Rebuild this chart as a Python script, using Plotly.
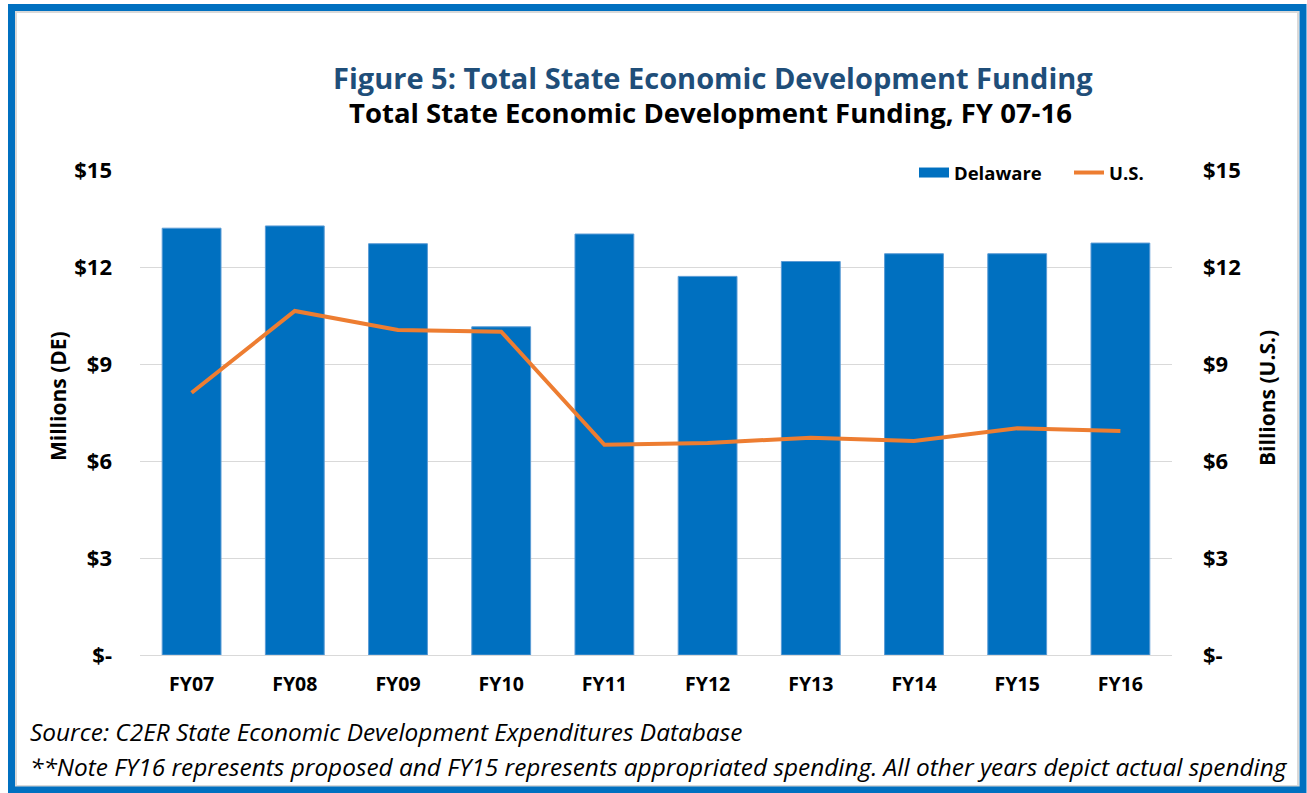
import plotly.graph_objects as go

years = ["FY07", "FY08", "FY09", "FY10", "FY11", "FY12", "FY13", "FY14", "FY15", "FY16"]
delaware_millions = [13.20, 13.27, 12.72, 10.15, 13.02, 11.71, 12.17, 12.41, 12.41, 12.74]
us_billions = [8.11, 10.64, 10.05, 10.00, 6.50, 6.56, 6.72, 6.62, 7.01, 6.93]
tick_vals = [0, 3, 6, 9, 12, 15]
tick_text = ["$-", "$3", "$6", "$9", "$12", "$15"]

W, H = 1307, 793
L, R, T, B = 140, 135, 170, 138
PW, PH = W - L - R, H - T - B

def px(x):
    return (x - L) / PW

def py(y):
    return (H - B - y) / PH

FONT = "'Open Sans', Lato, sans-serif"
BLUE = "#0070C0"
ORANGE = "#ED7D31"
LEG_FONT = dict(size=18.5, family=FONT, color="black", weight="bold")

fig = go.Figure()
fig.add_trace(go.Bar(
    x=years, y=delaware_millions, name="Delaware",
    marker=dict(color=BLUE, line=dict(color="#5B9BD5", width=1)),
    yaxis="y", legendgroup="de", showlegend=False,
))
# legend-only entry drawn as a wide swatch for Delaware
fig.add_trace(go.Scatter(
    x=[None], y=[None], name="Delaware", mode="lines",
    line=dict(color=BLUE, width=13), legendgroup="de",
    legend="legend", hoverinfo="skip",
))
fig.add_trace(go.Scatter(
    x=years, y=us_billions, name="U.S.", mode="lines",
    line=dict(color=ORANGE, width=4),
    yaxis="y2", legend="legend2",
))

fig.update_layout(
    width=W, height=H,
    margin=dict(l=L, r=R, t=T, b=B),
    paper_bgcolor="white", plot_bgcolor="white",
    font=dict(family=FONT, color="black"),
    bargap=0.43,
    showlegend=True,
    legend=dict(
        orientation="h", x=px(1047), xanchor="right", y=py(173), yanchor="middle",
        bgcolor="rgba(0,0,0,0)", font=LEG_FONT, itemwidth=30,
    ),
    legend2=dict(
        orientation="h", x=px(1149), xanchor="right", y=py(173), yanchor="middle",
        bgcolor="rgba(0,0,0,0)", font=LEG_FONT, itemwidth=30,
    ),
    xaxis=dict(
        showgrid=False, showline=True, linecolor="#D9D9D9", linewidth=1,
        tickfont=dict(size=19.5, family=FONT, weight="bold"), ticks="",
        ticklabelstandoff=12,
    ),
    yaxis=dict(
        range=[0, 15], tickvals=tick_vals, ticktext=tick_text,
        showgrid=True, gridcolor="#D9D9D9", gridwidth=1, zeroline=False,
        tickfont=dict(size=22, family=FONT, weight="bold"), ticks="",
        ticklabelstandoff=27,
    ),
    yaxis2=dict(
        range=[0, 15], tickvals=tick_vals, ticktext=tick_text,
        overlaying="y", side="right", showgrid=False, zeroline=False,
        tickfont=dict(size=22, family=FONT, weight="bold"), ticks="",
        ticklabelstandoff=30,
    ),
)

annotations = [
    dict(text="Figure 5: Total State Economic Development Funding",
         x=px(713), y=py(77), xanchor="center", yanchor="middle",
         font=dict(size=29, color="#1F4E79", family=FONT, weight="bold")),
    dict(text="Total State Economic Development Funding, FY 07-16",
         x=px(710), y=py(113), xanchor="center", yanchor="middle",
         font=dict(size=27.5, color="black", family=FONT, weight="bold")),
    dict(text="Millions (DE)", textangle=-90,
         x=px(58), y=py(396), xanchor="center", yanchor="middle",
         font=dict(size=21, color="black", family=FONT, weight="bold")),
    dict(text="Billions (U.S.)", textangle=-90,
         x=px(1267), y=py(398), xanchor="center", yanchor="middle",
         font=dict(size=21, color="black", family=FONT, weight="bold")),
    dict(text="Source: C2ER State Economic Development Expenditures Database",
         x=px(28), y=py(732), xanchor="left", yanchor="middle",
         font=dict(size=24.4, color="black", family=FONT, style="italic")),
    dict(text="**Note FY16 represents proposed and FY15 represents appropriated spending. All other years depict actual spending",
         x=px(28), y=py(766), xanchor="left", yanchor="middle",
         font=dict(size=24.4, color="black", family=FONT, style="italic")),
]
for a in annotations:
    a.update(xref="paper", yref="paper", showarrow=False)
fig.update_layout(annotations=annotations)

# white strip behind the legend, interrupting the top gridline
fig.add_shape(type="rect", xref="paper", yref="paper",
              x0=px(887), x1=px(1158), y0=py(177), y1=py(164),
              fillcolor="white", line=dict(width=0), layer="above")
fig.add_shape(type="rect", xref="paper", yref="paper",
              x0=px(16), x1=px(1298), y0=py(12), y1=py(786),
              line=dict(color="#D9D9D9", width=2), layer="below")
fig.add_shape(type="rect", xref="paper", yref="paper",
              x0=px(11.5), x1=px(1303), y0=py(7.5), y1=py(790),
              line=dict(color=BLUE, width=7), layer="above")

fig.write_html("out.html", config={"displayModeBar": False},
               post_script="document.body.style.margin='0';document.body.style.overflow='hidden';")
